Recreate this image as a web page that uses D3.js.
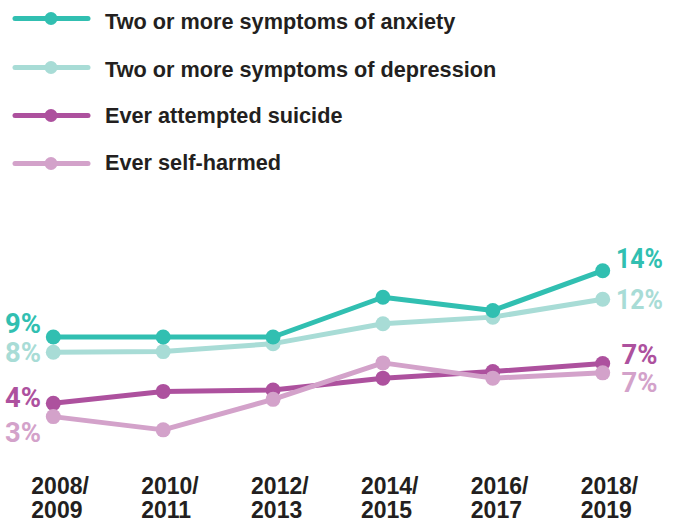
<!DOCTYPE html>
<html>
<head>
<meta charset="utf-8">
<script src="https://cdn.jsdelivr.net/npm/d3@7"></script>
<style>
  html, body { margin: 0; padding: 0; background: #ffffff; }
  svg { display: block; }
</style>
</head>
<body>
<svg id="chart" width="678" height="523"></svg>
<script>
// ---- data ----
const periods = ["2008/2009", "2010/2011", "2012/2013", "2014/2015", "2016/2017", "2018/2019"];
const seriesNames = [
  "Two or more symptoms of anxiety",
  "Two or more symptoms of depression",
  "Ever attempted suicide",
  "Ever self-harmed"
];
const anxiety    = [9, 9, 9, 12, 11, 14];
const depression = [7.85, 7.9, 8.5, 10, 10.5, 11.85];
const suicide    = [4, 4.9, 5, 5.9, 6.4, 7];
const selfHarm   = [3, 2, 4.3, 7.05, 5.9, 6.3];
const startLabels = ["9%", "8%", "4%", "3%"];
const endLabels   = ["14%", "12%", "7%", "7%"];
const colors = ["#31bfb1", "#a8dcd6", "#ad519e", "#d3a2ca"];

// ---- layout ----
const svg = d3.select("#chart");
const x = d3.scalePoint().domain(periods).range([53.3, 602.7]);
const y = d3.scaleLinear().domain([0, 14]).range([456.4, 270.7]);

const series = [
  { name: seriesNames[0], values: anxiety,    color: colors[0], start: startLabels[0], end: endLabels[0], sY: 333, eY: 268 },
  { name: seriesNames[1], values: depression, color: colors[1], start: startLabels[1], end: endLabels[1], sY: 362, eY: 309 },
  { name: seriesNames[2], values: suicide,    color: colors[2], start: startLabels[2], end: endLabels[2], sY: 407, eY: 364 },
  { name: seriesNames[3], values: selfHarm,   color: colors[3], start: startLabels[3], end: endLabels[3], sY: 442, eY: 392 }
];

// ---- legend ----
const legendY = [18.5, 67.5, 115.5, 163.5];
const legendTextY = [28.5, 76.5, 122.8, 169.5];
const legend = svg.append("g");
series.forEach((s, i) => {
  const g = legend.append("g");
  g.append("line").attr("x1", 15).attr("x2", 88).attr("y1", legendY[i]).attr("y2", legendY[i])
    .attr("stroke", s.color).attr("stroke-width", 5).attr("stroke-linecap", "round");
  g.append("circle").attr("cx", 51).attr("cy", legendY[i]).attr("r", 6.5).attr("fill", s.color);
  g.append("text").attr("x", 105).attr("y", legendTextY[i])
    .attr("font-family", "'Liberation Sans', Arial, sans-serif").attr("font-weight", "bold")
    .attr("font-size", 21.7).attr("fill", "#231f20").text(s.name);
});

// ---- lines & points (draw order: depression, anxiety, suicide, self-harm) ----
const order = [1, 0, 2, 3];
const line = d3.line().x((d, i) => x(periods[i])).y(d => y(d));
order.forEach(k => {
  const s = series[k];
  const g = svg.append("g");
  g.append("path").datum(s.values).attr("d", line)
    .attr("fill", "none").attr("stroke", s.color).attr("stroke-width", 5)
    .attr("stroke-linejoin", "round");
  g.selectAll("circle").data(s.values).join("circle")
    .attr("cx", (d, i) => x(periods[i])).attr("cy", d => y(d)).attr("r", 7.5).attr("fill", s.color);
});

// ---- value labels ----
const labelFont = "'Liberation Sans Narrow', Roboto, 'Liberation Sans', sans-serif";
series.forEach(s => {
  svg.append("text").attr("x", 5).attr("y", s.sY)
    .attr("font-family", labelFont).attr("font-weight", "bold").attr("font-size", 28)
    .attr("fill", s.color)
    .attr("textLength", (s.start.length - 1) * 11 + 25).attr("lengthAdjust", "spacingAndGlyphs")
    .text(s.start);
  const len = (s.end.length - 1) * 11 + 25;
  svg.append("text").attr("x", 639.5 - len / 2).attr("y", s.eY)
    .attr("font-family", labelFont).attr("font-weight", "bold").attr("font-size", 28)
    .attr("fill", s.color)
    .attr("textLength", len).attr("lengthAdjust", "spacingAndGlyphs")
    .text(s.end);
});

// ---- x axis labels (two lines) ----
const axis = svg.append("g");
periods.forEach(p => {
  const [a, b] = p.split("/");
  const t = axis.append("text")
    .attr("font-family", "'Liberation Sans', Arial, sans-serif").attr("font-weight", "bold")
    .attr("font-size", 23).attr("fill", "#231f20").attr("text-anchor", "start");
  const left = x(p) - 22;
  t.append("tspan").attr("x", left).attr("y", 494).text(a + "/");
  t.append("tspan").attr("x", left).attr("y", 518).text(b);
});
</script>
</body>
</html>
